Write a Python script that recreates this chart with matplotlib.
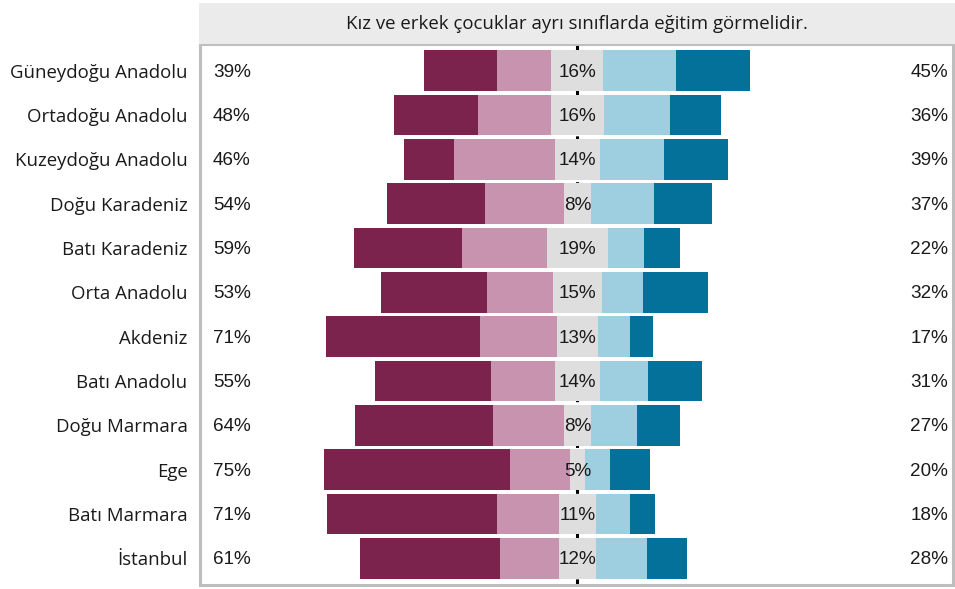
import matplotlib
matplotlib.use("Agg")
import matplotlib.pyplot as plt
import numpy as np
from matplotlib.patches import Rectangle
from matplotlib.transforms import offset_copy

regions = ["Güneydoğu Anadolu", "Ortadoğu Anadolu", "Kuzeydoğu Anadolu", "Doğu Karadeniz",
           "Batı Karadeniz", "Orta Anadolu", "Akdeniz", "Batı Anadolu", "Doğu Marmara",
           "Ege", "Batı Marmara", "İstanbul"]
strongly_disagree = [22.3, 25.7, 15.3, 30.0, 33.0, 32.4, 47.1, 35.5, 42.2, 57.0, 52.0, 42.8]
disagree          = [16.8, 22.3, 30.8, 24.0, 26.0, 20.2, 23.5, 19.6, 21.8, 18.2, 19.0, 18.0]
neutral           = [15.9, 16.2, 13.8, 8.3, 18.6, 14.7, 12.7, 13.8, 8.3, 4.8, 11.3, 11.6]
agree             = [22.3, 20.2, 19.6, 19.1, 10.9, 12.8, 9.8, 14.7, 14.1, 7.5, 10.4, 15.3]
strongly_agree    = [22.6, 15.6, 19.6, 18.0, 11.0, 19.6, 7.0, 16.4, 13.1, 12.4, 7.5, 12.5]
title = "Kız ve erkek çocuklar ayrı sınıflarda eğitim görmelidir."

colors = ["#7B234C", "#C793AE", "#DEDEDE", "#9DCFE0", "#03719A"]

W, H = 955, 589
fig = plt.figure(figsize=(W / 100, H / 100), dpi=100)

def fx(px):
    return px / W

def fy(py):
    return 1 - py / H

# title strip
fig.patches.append(Rectangle((fx(199), fy(44)), fx(955) - fx(199), fy(3) - fy(44),
                             transform=fig.transFigure, facecolor="#EBEBEB",
                             edgecolor="none", zorder=0))
fig.text(fx(577), fy(24), title, ha="center", va="center", fontsize=13.4,
         family="Open Sans", color="#1A1A1A")

ax = fig.add_axes([fx(200), fy(585), fx(953) - fx(200), fy(44) - fy(585)])

sd = np.array(strongly_disagree)
d = np.array(disagree)
n = np.array(neutral)
a = np.array(agree)
sa = np.array(strongly_agree)
y = np.arange(len(regions))

start = -(sd + d + n / 2)
segs = [sd, d, n, a, sa]
left = start.copy()
for seg, c in zip(segs, colors):
    ax.barh(y, seg, left=left, height=0.92, color=c, edgecolor="none", zorder=2)
    left = left + seg

ax.axvline(0, color="black", linestyle=(0, (2, 3)), linewidth=2.2, zorder=1)

tr = offset_copy(ax.transData, fig=fig, x=0, y=-1.5, units="dots")
for i in range(len(regions)):
    ax.text(-111.5, y[i], f"{round(sd[i] + d[i]):.0f}%", ha="left", va="center",
            fontsize=13.6, family="Liberation Sans", color="#1A1A1A", zorder=3,
            transform=tr)
    ax.text(113.3, y[i], f"{round(a[i] + sa[i]):.0f}%", ha="right", va="center",
            fontsize=13.6, family="Liberation Sans", color="#1A1A1A", zorder=3,
            transform=tr)
    ax.text(0, y[i], f"{round(n[i]):.0f}%", ha="center", va="center",
            fontsize=13.6, family="Liberation Sans", color="#1A1A1A", zorder=3,
            transform=tr)

ax.set_xlim(-115.4, 114.8)
ax.set_ylim(len(regions) - 1 + 0.6, -0.6)
ax.set_yticks(y)
ax.set_yticklabels(regions, family="Open Sans", fontsize=13.4, color="#1A1A1A")
ax.tick_params(axis="y", length=0, pad=9)
ax.set_xticks([])
for s in ax.spines.values():
    s.set_color("#BEBEBE")
    s.set_linewidth(2.2)

fig.savefig("out.png", dpi=100, facecolor="white")
